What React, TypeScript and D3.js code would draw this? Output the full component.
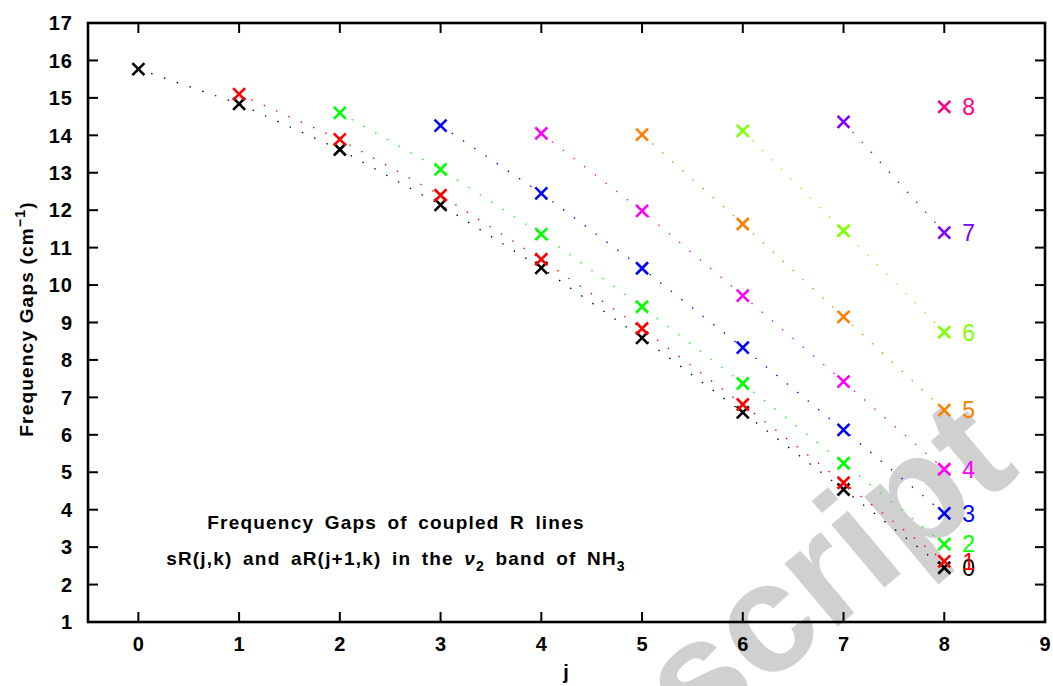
import React, { useEffect, useRef } from "react";
import * as d3 from "d3";

// frequency gaps (cm^-1) for each k, starting at j = k and running to j = 8
const kValues = [0, 1, 2, 3, 4, 5, 6, 7, 8];
const gapsK0 = [15.77, 14.84, 13.62, 12.14, 10.46, 8.59, 6.6, 4.54, 2.45];
const gapsK1 = [15.1, 13.89, 12.4, 10.69, 8.84, 6.81, 4.72, 2.62];
const gapsK2 = [14.6, 13.09, 11.36, 9.42, 7.37, 5.24, 3.08];
const gapsK3 = [14.26, 12.45, 10.45, 8.33, 6.13, 3.9];
const gapsK4 = [14.05, 11.98, 9.72, 7.42, 5.08];
const gapsK5 = [14.02, 11.63, 9.15, 6.66];
const gapsK6 = [14.12, 11.45, 8.74];
const gapsK7 = [14.36, 11.4];
const gapsK8 = [14.76];
const allGaps = [gapsK0, gapsK1, gapsK2, gapsK3, gapsK4, gapsK5, gapsK6, gapsK7, gapsK8];

const colors = [
  "#000000",
  "#ff0000",
  "#00ff00",
  "#0000ff",
  "#ff00ff",
  "#ff8000",
  "#80ff00",
  "#8000ff",
  "#ff0080",
];

const xTicks = [0, 1, 2, 3, 4, 5, 6, 7, 8, 9];
const yTicks = d3.range(1, 18);

const W = 1053;
const H = 686;
const margin = { left: 88, right: 8, top: 23, bottom: 64 };
const font = "'Liberation Sans', Arial, sans-serif";

const App = () => {
  const svgRef = useRef<SVGSVGElement>(null);

  useEffect(() => {
    const svg = d3.select(svgRef.current);
    svg.selectAll("*").remove();

    const x = d3.scaleLinear().domain([-0.5, 9]).range([margin.left, W - margin.right]);
    const y = d3.scaleLinear().domain([1, 17]).range([H - margin.bottom, margin.top]);

    // watermark
    svg
      .append("text")
      .attr("transform", "translate(1022,472) rotate(-40)")
      .attr("text-anchor", "end")
      .attr("font-family", font)
      .attr("font-weight", "bold")
      .attr("font-size", 156)
      .attr("fill", "#d0d0d0")
      .text("Manuscript");

    const g = svg.append("g");

    // dotted connecting lines
    allGaps.forEach((vals, k) => {
      const pts = vals.map((v, i) => [x(kValues[k] + i), y(v)] as [number, number]);
      g.append("path")
        .attr("d", d3.line()(pts))
        .attr("fill", "none")
        .attr("stroke", colors[k])
        .attr("stroke-width", 1.3)
        .attr("stroke-dasharray", "1.5 12");
    });

    // x markers + k labels
    const s = 6;
    allGaps.forEach((vals, k) => {
      vals.forEach((v, i) => {
        const cx = x(kValues[k] + i);
        const cy = y(v);
        g.append("path")
          .attr("d", `M${cx - s},${cy - s}L${cx + s},${cy + s}M${cx - s},${cy + s}L${cx + s},${cy - s}`)
          .attr("stroke", colors[k])
          .attr("stroke-width", 2.6)
          .attr("fill", "none");
      });
      g.append("text")
        .attr("x", x(8) + 18)
        .attr("y", y(vals[vals.length - 1]))
        .attr("dy", "0.36em")
        .attr("font-family", font)
        .attr("font-size", 23)
        .attr("fill", colors[k])
        .text(kValues[k]);
    });

    // frame and inward ticks
    const x0 = x.range()[0];
    const x1 = x.range()[1];
    const y0 = y.range()[0];
    const y1 = y.range()[1];
    const axis = svg.append("g").attr("stroke", "#000");
    axis
      .append("rect")
      .attr("x", x0)
      .attr("y", y1)
      .attr("width", x1 - x0)
      .attr("height", y0 - y1)
      .attr("fill", "none")
      .attr("stroke-width", 2.6);
    const tl = 10;
    xTicks.forEach((t) => {
      axis.append("line").attr("x1", x(t)).attr("x2", x(t)).attr("y1", y0).attr("y2", y0 - tl).attr("stroke-width", 2);
      axis.append("line").attr("x1", x(t)).attr("x2", x(t)).attr("y1", y1).attr("y2", y1 + tl).attr("stroke-width", 2);
    });
    yTicks.forEach((t) => {
      axis.append("line").attr("x1", x0).attr("x2", x0 + tl).attr("y1", y(t)).attr("y2", y(t)).attr("stroke-width", 2);
      axis.append("line").attr("x1", x1).attr("x2", x1 - tl).attr("y1", y(t)).attr("y2", y(t)).attr("stroke-width", 2);
    });

    const labels = svg
      .append("g")
      .attr("font-family", font)
      .attr("font-weight", "bold")
      .attr("fill", "#000");

    labels
      .selectAll("text.xt")
      .data(xTicks)
      .join("text")
      .attr("class", "xt")
      .attr("x", (d) => x(d))
      .attr("y", y0 + 29)
      .attr("text-anchor", "middle")
      .attr("font-size", 20)
      .text((d) => d);

    labels
      .selectAll("text.yt")
      .data(yTicks)
      .join("text")
      .attr("class", "yt")
      .attr("x", x0 - 15)
      .attr("y", (d) => y(d))
      .attr("dy", "0.36em")
      .attr("text-anchor", "end")
      .attr("font-size", 20)
      .attr("letter-spacing", 1)
      .text((d) => d);

    labels
      .append("text")
      .attr("x", 566)
      .attr("y", 679)
      .attr("text-anchor", "middle")
      .attr("font-size", 20)
      .text("j");

    const yt = labels
      .append("text")
      .attr("transform", "translate(33,319) rotate(-90)")
      .attr("text-anchor", "middle")
      .attr("font-size", 19)
      .attr("letter-spacing", 1.2);
    yt.append("tspan").text("Frequency Gaps (cm");
    yt.append("tspan").attr("dy", -8).attr("font-size", 14).text("−1");
    yt.append("tspan").attr("dy", 8).text(")");

    // annotation
    const note = labels.append("g").attr("font-size", 19).attr("letter-spacing", 1.2).attr("word-spacing", 4);
    note
      .append("text")
      .attr("x", 396)
      .attr("y", 529)
      .attr("text-anchor", "middle")
      .text("Frequency Gaps of coupled R lines");
    const l2 = note.append("text").attr("x", 396).attr("y", 565).attr("text-anchor", "middle");
    l2.append("tspan").text("sR(j,k) and aR(j+1,k) in the ");
    l2.append("tspan").attr("font-style", "italic").text("ν");
    l2.append("tspan").attr("dy", 6).attr("font-size", 14).text("2");
    l2.append("tspan").attr("dy", -6).text(" band of NH");
    l2.append("tspan").attr("dy", 6).attr("font-size", 14).text("3");
  }, []);

  return (
    <svg
      ref={svgRef}
      width={W}
      height={H}
      style={{ position: "absolute", left: 0, top: 0, background: "#fff" }}
    />
  );
};

export default App;
